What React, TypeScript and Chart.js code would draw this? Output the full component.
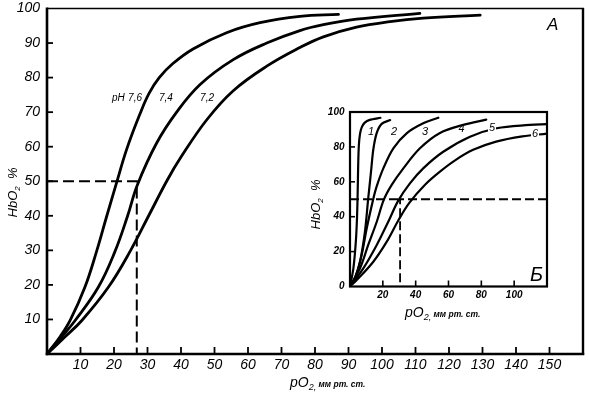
import React, { useEffect, useRef } from 'react';
import { Chart, registerables } from 'chart.js';

Chart.register(...registerables);
Chart.defaults.color = '#000';

const FONT = '"Liberation Sans", Arial, Helvetica, sans-serif';

// ---------- Panel A (main chart) ----------
const mainXTickValues = [10, 20, 30, 40, 50, 60, 70, 80, 90, 100, 110, 120, 130, 140, 150];
const mainYTickValues = [10, 20, 30, 40, 50, 60, 70, 80, 90, 100];
const phLabels = ['7,6', '7,4', '7,2'];

const ph76X = [0, 3.9, 6.9, 11.3, 14.8, 17.8, 20.6, 23.8, 27.8, 30.5, 33.5, 37.5, 43.6, 53.6, 63.6, 75.5, 87];
const ph76Y = [0, 5, 9.7, 19.3, 29.7, 39.8, 49, 59.3, 69.6, 75.5, 80, 84, 88.3, 93, 95.9, 97.7, 98.3];

const ph74X = [0, 4.4, 8.4, 15.3, 20.3, 24, 27, 32.7, 38.7, 45.7, 55.6, 65.6, 75.5, 82.5, 92.4, 111.3];
const ph74Y = [0, 5, 9.7, 19.3, 29.7, 39.8, 49, 61, 70, 78, 85.2, 90, 93.6, 95.3, 96.9, 98.6];

const ph72X = [0, 5.4, 10.4, 18.3, 24.8, 30.5, 36, 40, 47.7, 55.6, 65.6, 75.5, 82.5, 92.4, 102.4, 112.3, 129.3];
const ph72Y = [0, 5, 9.7, 19.3, 29.7, 40.3, 50.5, 57, 67.8, 76.2, 83.3, 88.7, 91.8, 94.6, 96.2, 97.2, 98.1];

const mainHalfSat = 50;
const mainP50 = 26.8;

// ---------- Panel Б (inset) ----------
const insetXTickValues = [20, 40, 60, 80, 100];
const insetYTickValues = [0, 20, 40, 60, 80, 100];
const insetCurveNames = ['1', '2', '3', '4', '5', '6'];

const c1X = [0, 2, 3.5, 4.3, 4.7, 5, 5.4, 6.1, 7.2, 9, 12, 18.5];
const c1Y = [0, 10, 25, 40, 55, 70, 81, 87.5, 91.3, 93.9, 95.5, 96.7];

const c2X = [0, 3, 6.1, 9.1, 11.1, 12.8, 14.2, 16.3, 19.3, 24.4];
const c2Y = [0, 5, 14.2, 31.4, 50.5, 65.8, 78.5, 88, 93.2, 95.4];

const c3X = [0, 3.5, 7.1, 10.2, 14, 16.3, 20.3, 26.4, 34.5, 44.6, 53.8];
const c3Y = [0, 6, 18.1, 33.4, 49.5, 57.5, 67.7, 79.2, 87.8, 93.5, 96.7];

const c4X = [0, 6.1, 11.1, 16.3, 20.5, 25.4, 32.5, 42.6, 54.8, 69, 83];
const c4Y = [0, 10.4, 23.8, 37.1, 49.5, 58.2, 67.7, 79.2, 88, 92.6, 95.6];

const c5X = [0, 8.1, 16.3, 23.3, 29.4, 36.5, 44.6, 56.8, 73.1, 89.3, 109.6, 120];
const c5Y = [0, 10.4, 23.8, 37.1, 49.2, 59.1, 67.7, 77.2, 85.8, 90.7, 92.6, 93.1];

const c6X = [0, 4.1, 14.2, 22.4, 29.4, 36, 46, 55, 64, 75, 89, 105, 120];
const c6Y = [0, 3.7, 14.2, 25.7, 37.8, 47.8, 58.6, 66, 72.3, 78.3, 83, 86, 87.6];

const insetHalfSat = 50;
const insetP50 = 30.5;

// ---------- helpers ----------
const pts = (xs: number[], ys: number[]) => xs.map((x, i) => ({ x, y: ys[i] }));

const curve = (xs: number[], ys: number[], w: number, tension: number) => ({
  data: pts(xs, ys),
  borderColor: '#000',
  borderWidth: w,
  pointRadius: 0,
  fill: false,
  tension,
  borderCapStyle: 'round' as const,
  borderJoinStyle: 'round' as const,
});

const dashed = (data: { x: number; y: number }[], w: number, dash: number[]) => ({
  data,
  borderColor: '#000',
  borderWidth: w,
  borderDash: dash,
  pointRadius: 0,
  fill: false,
  tension: 0,
});

type Part = { t: string; font: string; dy: number };

function richWidth(ctx: CanvasRenderingContext2D, parts: Part[]) {
  let w = 0;
  for (const p of parts) {
    ctx.font = p.font;
    w += ctx.measureText(p.t).width;
  }
  return w;
}

function drawRich(ctx: CanvasRenderingContext2D, parts: Part[], x: number, y: number) {
  ctx.textBaseline = 'alphabetic';
  ctx.textAlign = 'left';
  for (const p of parts) {
    ctx.font = p.font;
    ctx.fillText(p.t, x, y + p.dy);
    x += ctx.measureText(p.t).width;
  }
}

function line(ctx: CanvasRenderingContext2D, x1: number, y1: number, x2: number, y2: number) {
  ctx.beginPath();
  ctx.moveTo(x1, y1);
  ctx.lineTo(x2, y2);
  ctx.stroke();
}

const mainDecor = {
  id: 'mainDecor',
  afterDraw(chart: any) {
    const { ctx, chartArea: a, scales } = chart;
    const xs = scales.x;
    const ys = scales.y;
    ctx.save();
    ctx.strokeStyle = '#000';
    ctx.fillStyle = '#000';
    ctx.lineCap = 'butt';
    // frame
    ctx.lineWidth = 1.6;
    line(ctx, a.left, a.top, a.right + 1, a.top);
    ctx.lineWidth = 2.4;
    line(ctx, a.right, a.top - 0.5, a.right, a.bottom + 1);
    ctx.lineWidth = 2.6;
    line(ctx, a.left, a.top - 1, a.left, a.bottom + 1.3);
    line(ctx, a.left - 1.3, a.bottom, a.right + 1.2, a.bottom);
    // inside ticks
    ctx.lineWidth = 1.8;
    mainXTickValues.forEach((v) => {
      const px = xs.getPixelForValue(v);
      line(ctx, px, a.bottom, px, a.bottom - 7);
    });
    mainYTickValues.forEach((v) => {
      if (v >= 100) return;
      const py = ys.getPixelForValue(v);
      line(ctx, a.left, py, a.left + 6, py);
    });
    // pH labels
    ctx.font = `italic 10px ${FONT}`;
    ctx.textBaseline = 'alphabetic';
    ctx.textAlign = 'left';
    const by = ys.getPixelForValue(73.3);
    ctx.fillText('pH', xs.getPixelForValue(19.4), by);
    const lx = [24.2, 33.4, 45.7];
    phLabels.forEach((t, i) => ctx.fillText(t, xs.getPixelForValue(lx[i]), by));
    // panel letter
    ctx.font = `italic 17px ${FONT}`;
    ctx.fillText('A', a.right - 36, a.top + 21.5);
    // x title
    drawRich(ctx, [
      { t: 'pO', font: `italic 14px ${FONT}`, dy: 0 },
      { t: '2,', font: `italic 9px ${FONT}`, dy: 3 },
      { t: ' мм рт. ст.', font: `italic bold 8.5px ${FONT}`, dy: 0 },
    ], 290, 387);
    // y title (rotated)
    const yParts: Part[] = [
      { t: 'HbO', font: `italic 13px ${FONT}`, dy: 0 },
      { t: '2', font: `italic 8px ${FONT}`, dy: 3 },
      { t: '  %', font: `italic 13px ${FONT}`, dy: 0 },
    ];
    const w = richWidth(ctx, yParts);
    ctx.translate(17, 192.5);
    ctx.rotate(-Math.PI / 2);
    drawRich(ctx, yParts, -w / 2, 0);
    ctx.restore();
  },
};

const insetDecor = {
  id: 'insetDecor',
  afterDraw(chart: any) {
    const { ctx, chartArea: a, scales } = chart;
    const xs = scales.x;
    const ys = scales.y;
    ctx.save();
    ctx.strokeStyle = '#000';
    ctx.fillStyle = '#000';
    // frame
    ctx.lineWidth = 2.2;
    ctx.strokeRect(a.left, a.top, a.right - a.left, a.bottom - a.top);
    // inside ticks
    ctx.lineWidth = 1.6;
    insetXTickValues.forEach((v) => {
      const px = xs.getPixelForValue(v);
      line(ctx, px, a.bottom, px, a.bottom - 6);
    });
    insetYTickValues.forEach((v) => {
      if (v <= 0 || v >= 100) return;
      const py = ys.getPixelForValue(v);
      line(ctx, a.left, py, a.left + 5, py);
    });
    // curve numbers
    const labX = [12.8, 26.8, 45.7, 67.9, 86.5, 112.7];
    const labY = [88.5, 88.5, 88.8, 90.3, 90.9, 87.2];
    ctx.font = `italic 11px ${FONT}`;
    ctx.textAlign = 'center';
    ctx.textBaseline = 'middle';
    insetCurveNames.forEach((t, i) => {
      const px = xs.getPixelForValue(labX[i]);
      const py = ys.getPixelForValue(labY[i]);
      if (i >= 4) {
        ctx.fillStyle = '#fff';
        ctx.fillRect(px - 4, py - 5, 8, 10);
        ctx.fillStyle = '#000';
      }
      ctx.fillText(t, px, py);
    });
    // panel letter
    ctx.textAlign = 'left';
    ctx.textBaseline = 'alphabetic';
    ctx.font = `italic 20px ${FONT}`;
    ctx.fillText('Б', a.right - 17, a.bottom - 5.5);
    // x title
    drawRich(ctx, [
      { t: 'pO', font: `italic 14px ${FONT}`, dy: 0 },
      { t: '2,', font: `italic 9px ${FONT}`, dy: 3 },
      { t: ' мм рт. ст.', font: `italic bold 8.5px ${FONT}`, dy: 0 },
    ], 105, 217);
    // y title
    const yParts: Part[] = [
      { t: 'HbO', font: `italic 13px ${FONT}`, dy: 0 },
      { t: '2', font: `italic 8px ${FONT}`, dy: 3 },
      { t: '  %', font: `italic 13px ${FONT}`, dy: 0 },
    ];
    const w = richWidth(ctx, yParts);
    ctx.translate(20, 104.5);
    ctx.rotate(-Math.PI / 2);
    drawRich(ctx, yParts, -w / 2, 0);
    ctx.restore();
  },
};

export default function App() {
  const mainRef = useRef<HTMLCanvasElement | null>(null);
  const insetRef = useRef<HTMLCanvasElement | null>(null);

  useEffect(() => {
    const tickFontMain = { family: FONT, size: 14, style: 'italic' as const };
    const tickFontInset = { family: FONT, size: 10, style: 'italic' as const, weight: 'bold' as const };

    const main = new Chart(mainRef.current as HTMLCanvasElement, {
      type: 'line',
      data: {
        datasets: [
          curve(ph76X, ph76Y, 2.8, 0.4),
          curve(ph74X, ph74Y, 2.8, 0.4),
          curve(ph72X, ph72Y, 2.8, 0.4),
          dashed([
            { x: 0, y: mainHalfSat },
            { x: mainP50, y: mainHalfSat },
            { x: mainP50, y: 0 },
          ], 2, [11, 5]),
        ] as any,
      },
      options: {
        animation: false,
        responsive: false,
        maintainAspectRatio: false,
        events: [],
        layout: { padding: { top: 8.5, right: 6, left: 0, bottom: 0 }, autoPadding: false },
        plugins: { legend: { display: false }, tooltip: { enabled: false }, title: { display: false } },
        scales: {
          x: {
            type: 'linear',
            min: 0,
            max: 160,
            grid: { display: false, drawTicks: false },
            border: { display: false },
            ticks: {
              stepSize: 10,
              autoSkip: false,
              maxRotation: 0,
              padding: 3,
              color: '#000',
              font: tickFontMain,
              callback: (v: any) => (mainXTickValues.includes(Number(v)) ? String(v) : ''),
            },
            afterFit: (s: any) => {
              s.height = 42;
              s.paddingLeft = 0;
              s.paddingRight = 0;
            },
          },
          y: {
            type: 'linear',
            min: 0,
            max: 100,
            grid: { display: false, drawTicks: false },
            border: { display: false },
            ticks: {
              stepSize: 10,
              autoSkip: false,
              padding: 7,
              color: '#000',
              font: tickFontMain,
              callback: (v: any) => (mainYTickValues.includes(Number(v)) ? String(v) : ''),
            },
            afterFit: (s: any) => {
              s.width = 47;
              s.paddingTop = 0;
              s.paddingBottom = 0;
            },
          },
        },
      } as any,
      plugins: [mainDecor],
    });

    const inset = new Chart(insetRef.current as HTMLCanvasElement, {
      type: 'line',
      data: {
        datasets: [
          curve(c1X, c1Y, 2.2, 0.25),
          curve(c2X, c2Y, 2.2, 0.3),
          curve(c3X, c3Y, 2.2, 0.35),
          curve(c4X, c4Y, 2.2, 0.35),
          curve(c5X, c5Y, 2.2, 0.35),
          curve(c6X, c6Y, 2.2, 0.35),
          dashed([
            { x: 120, y: insetHalfSat },
            { x: insetP50, y: insetHalfSat },
            { x: insetP50, y: 0 },
          ], 1.8, [9, 4]),
          dashed([
            { x: 0, y: insetHalfSat },
            { x: insetP50, y: insetHalfSat },
          ], 1.8, [9, 4]),
        ] as any,
      },
      options: {
        animation: false,
        responsive: false,
        maintainAspectRatio: false,
        events: [],
        layout: { padding: { top: 12, right: 13, left: 0, bottom: 0 }, autoPadding: false },
        plugins: { legend: { display: false }, tooltip: { enabled: false }, title: { display: false } },
        scales: {
          x: {
            type: 'linear',
            min: 0,
            max: 120,
            grid: { display: false, drawTicks: false },
            border: { display: false },
            ticks: {
              stepSize: 20,
              autoSkip: false,
              maxRotation: 0,
              padding: 2.5,
              color: '#000',
              font: tickFontInset,
              callback: (v: any) => (insetXTickValues.includes(Number(v)) ? String(v) : ''),
            },
            afterFit: (s: any) => {
              s.height = 48.5;
              s.paddingLeft = 0;
              s.paddingRight = 0;
            },
          },
          y: {
            type: 'linear',
            min: 0,
            max: 100,
            grid: { display: false, drawTicks: false },
            border: { display: false },
            ticks: {
              stepSize: 20,
              autoSkip: false,
              padding: 5.5,
              color: '#000',
              font: tickFontInset,
              callback: (v: any) => (insetYTickValues.includes(Number(v)) ? String(v) : ''),
            },
            afterFit: (s: any) => {
              s.width = 50;
              s.paddingTop = 0;
              s.paddingBottom = 0;
            },
          },
        },
      } as any,
      plugins: [insetDecor],
    });

    return () => {
      main.destroy();
      inset.destroy();
    };
  }, []);

  return (
    <div style={{ position: 'fixed', left: 0, top: 0, width: 589, height: 396, background: '#fff', overflow: 'hidden' }}>
      <canvas ref={mainRef} width={589} height={396} style={{ position: 'absolute', left: 0, top: 0, width: 589, height: 396, display: 'block' }} />
      <canvas ref={insetRef} width={260} height={235} style={{ position: 'absolute', left: 300, top: 100, width: 260, height: 235, display: 'block' }} />
    </div>
  );
}
